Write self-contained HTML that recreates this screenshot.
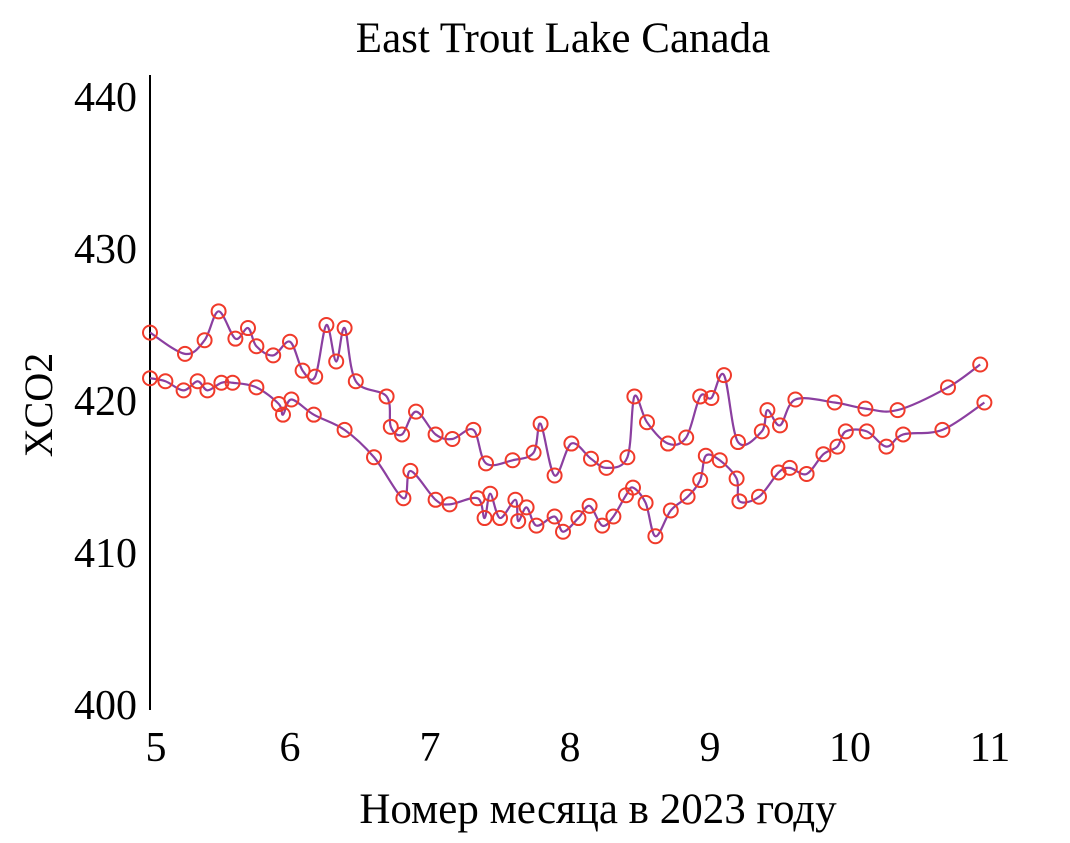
<!DOCTYPE html>
<html><head><meta charset="utf-8"><style>
html,body{margin:0;padding:0;background:#fff;}
svg{display:block;font-family:"Liberation Serif",serif;}
</style></head><body>
<svg id="chart" width="1070" height="843">
<text x="563" y="52" font-size="43" text-anchor="middle">East Trout Lake Canada</text>
<text x="598" y="823" font-size="43" text-anchor="middle">Номер месяца в 2023 году</text>
<text transform="translate(52,405) rotate(-90)" font-size="40" text-anchor="middle">XCO2</text>
<line x1="150" y1="75" x2="150" y2="710" stroke="#000" stroke-width="2"/>
<g id="yticks"></g><g id="xticks"></g><g id="series"></g>
</svg>
<script>
const xTicks=[5,6,7,8,9,10,11];
const yTicks=[400,410,420,430,440];
const upperMonths=[5.00,5.25,5.39,5.49,5.61,5.70,5.76,5.88,6.00,6.09,6.18,6.26,6.33,6.39,6.47,6.69,6.72,6.80,6.90,7.04,7.16,7.31,7.40,7.59,7.74,7.79,7.89,8.01,8.15,8.26,8.41,8.46,8.55,8.70,8.83,8.93,9.01,9.10,9.20,9.37,9.41,9.50,9.61,9.89,10.11,10.34,10.70,10.93];
const upperValues=[424.5,423.1,424.0,425.9,424.1,424.8,423.6,423.0,423.9,422.0,421.6,425.0,422.6,424.8,421.3,420.3,418.3,417.8,419.3,417.8,417.5,418.1,415.9,416.1,416.6,418.5,415.1,417.2,416.2,415.6,416.3,420.3,418.6,417.2,417.6,420.3,420.2,421.7,417.3,418.0,419.4,418.4,420.1,419.9,419.5,419.4,420.9,422.4];
const lowerMonths=[5.00,5.11,5.24,5.34,5.41,5.51,5.59,5.76,5.92,5.95,6.01,6.17,6.39,6.60,6.81,6.86,7.04,7.14,7.34,7.39,7.43,7.50,7.61,7.63,7.69,7.76,7.89,7.95,8.06,8.14,8.23,8.31,8.40,8.45,8.54,8.61,8.72,8.84,8.93,8.97,9.07,9.19,9.21,9.35,9.49,9.57,9.69,9.81,9.91,9.97,10.12,10.26,10.38,10.66,10.96];
const lowerValues=[421.5,421.3,420.7,421.3,420.7,421.2,421.2,420.9,419.8,419.1,420.1,419.1,418.1,416.3,413.6,415.4,413.5,413.2,413.6,412.3,413.9,412.3,413.5,412.1,413.0,411.8,412.4,411.4,412.3,413.1,411.8,412.4,413.8,414.3,413.3,411.1,412.8,413.7,414.8,416.4,416.1,414.9,413.4,413.7,415.3,415.6,415.2,416.5,417.0,418.0,418.0,417.0,417.8,418.1,419.9];
const X=m=>150+(m-5)*140;
const Y=v=>705-(v-400)*15.2;
const NS="http://www.w3.org/2000/svg";
function mk(tag,attrs,parent){const e=document.createElementNS(NS,tag);for(const k in attrs)e.setAttribute(k,attrs[k]);parent.appendChild(e);return e;}
const yt=document.getElementById('yticks');
yTicks.forEach(v=>{const t=mk('text',{x:137,y:Y(v)+14,'font-size':42,'text-anchor':'end'},yt);t.textContent=v;

});
const xt=document.getElementById('xticks');
xTicks.forEach(m=>{const t=mk('text',{x:X(m)+(m===5?6:0),y:761,'font-size':42,'text-anchor':'middle'},xt);t.textContent=m;

});
function path(ms,vs){const p=ms.map((m,i)=>[X(m),Y(vs[i])]);let d=`M${p[0][0]},${p[0][1]}`;
for(let i=0;i<p.length-1;i++){const p0=p[i-1]||p[i],p1=p[i],p2=p[i+1],p3=p[i+2]||p2;
d+=` C${p1[0]+(p2[0]-p0[0])/6},${p1[1]+(p2[1]-p0[1])/6} ${p2[0]-(p3[0]-p1[0])/6},${p2[1]-(p3[1]-p1[1])/6} ${p2[0]},${p2[1]}`;}return d;}
const sg=document.getElementById('series');
[[upperMonths,upperValues,'upper'],[lowerMonths,lowerValues,'lower']].forEach(([ms,vs,n])=>{
const l=mk('path',{d:path(ms,vs),fill:'none',stroke:'#8b3fa0','stroke-width':2.2},sg);


ms.forEach((m,i)=>{const c=mk('circle',{cx:X(m),cy:Y(vs[i]),r:7,fill:'none',stroke:'#f03a2a','stroke-width':2},sg);

});});
</script>
</body></html>
